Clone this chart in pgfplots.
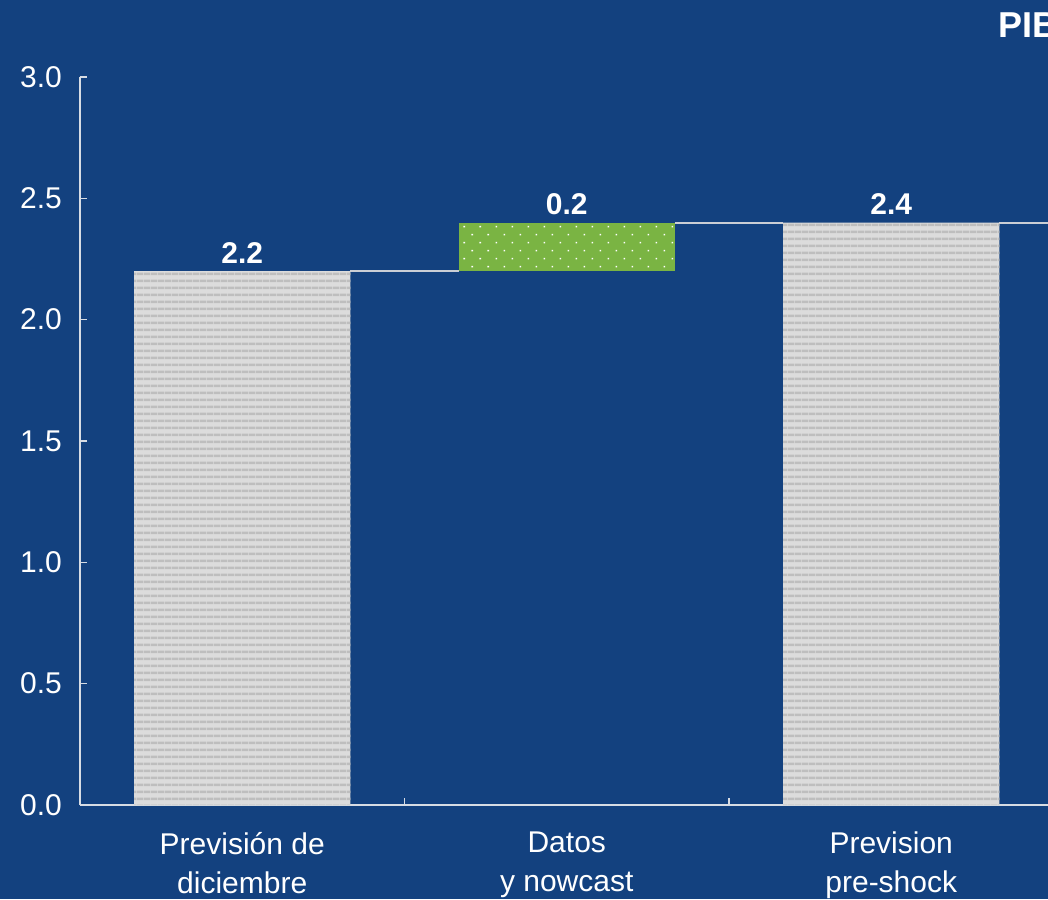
\documentclass[border=0pt]{standalone}
\usepackage{fontspec}
\setmainfont{Liberation Sans}
\usepackage{pgfplots}
\pgfplotsset{compat=1.18}
\usetikzlibrary{patterns.meta}
\definecolor{bg}{RGB}{19,65,127}
\definecolor{gl}{RGB}{220,220,220}
\definecolor{gd}{RGB}{190,190,190}
\definecolor{gr}{RGB}{122,180,67}
\definecolor{ax}{RGB}{215,220,228}
\begin{document}
\begin{tikzpicture}
\fill[bg] (-40pt,-47pt) rectangle (484pt,402.5pt);
\begin{axis}[
  at={(0pt,0pt)}, anchor=south west,
  scale only axis, width=486.75pt, height=364pt,
  xmin=-0.5, xmax=2.5, ymin=0, ymax=3,
  axis x line*=bottom, axis y line*=left,
  axis line style={ax, line width=0.8pt},
  tick align=inside,
  ybar stacked, bar width=0.6667,
  ytick={0,0.5,1,1.5,2,2.5,3},
  yticklabel style={font=\fontsize{15}{18}\selectfont, color=white, xshift=-5.5pt,
    /pgf/number format/.cd, fixed, fixed zerofill, precision=1, assume math mode=true},
  xtick={0,1,2},
  xticklabels={{Previsión de\\diciembre},{Datos\\y nowcast},{Prevision\\pre-shock}},
  xticklabel style={font=\fontsize{15}{19.5}\selectfont, color=white, align=center, yshift=-10pt},
  major x tick style={draw=none},
  minor xtick={0.5,1.5,2.5},
  minor tick length=3.5pt, major tick length=3.5pt,
  every tick/.style={ax, line width=0.8pt},
  clip=false,
]
\addplot[fill=gl, draw=none, postaction={pattern={Lines[angle=0,distance=3.35pt,line width=1.3pt]}, pattern color=gd}]
  coordinates {(0,2.2) (1,0) (2,2.4)};
\addplot[fill=none, draw=none] coordinates {(0,0) (1,2.2) (2,0)};
\addplot[fill=gr, draw=none, postaction={pattern={Dots[angle=45,distance=5.66pt,radius=0.55pt]}, pattern color=white}]
  coordinates {(0,0) (1,0.2) (2,0)};
\addplot[stack plots=false, sharp plot, ax!85!gray, line width=1pt, forget plot] coordinates {(0.3333,2.2) (0.6667,2.2)};
\addplot[stack plots=false, sharp plot, ax!85!gray, line width=1pt, forget plot] coordinates {(1.3333,2.4) (1.6667,2.4)};
\addplot[stack plots=false, sharp plot, ax!85!gray, line width=1pt, forget plot] coordinates {(2.3333,2.4) (2.5,2.4)};
\node[anchor=base, yshift=4pt, text=white, font=\bfseries\fontsize{15}{18}\selectfont] at (axis cs:0,2.2) {2.2};
\node[anchor=base, yshift=4pt, text=white, font=\bfseries\fontsize{15}{18}\selectfont] at (axis cs:1,2.4) {0.2};
\node[anchor=base, yshift=4pt, text=white, font=\bfseries\fontsize{15}{18}\selectfont] at (axis cs:2,2.4) {2.4};
\end{axis}
\node[anchor=base west, inner sep=0pt, text=white, font=\bfseries\fontsize{18}{20}\selectfont] at (459pt,383.5pt) {PIB};
\pgfresetboundingbox
\useasboundingbox (-40pt,-47pt) rectangle (484pt,402.5pt);
\end{tikzpicture}
\end{document}
